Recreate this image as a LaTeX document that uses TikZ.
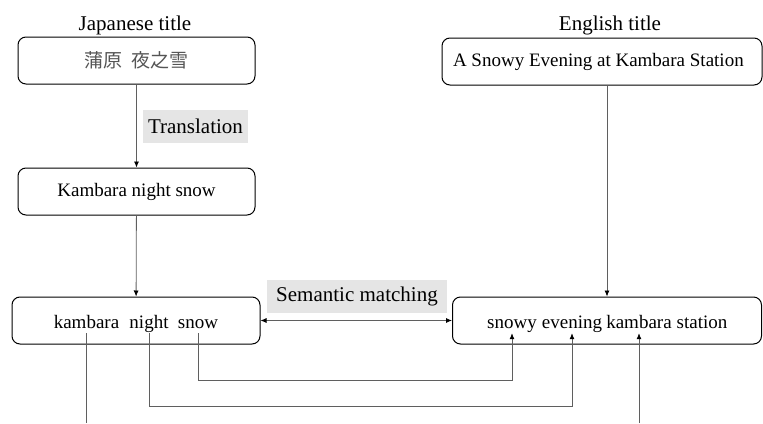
\documentclass[tikz,border=0pt]{standalone}
\usepackage{fontspec}
\setmainfont{Liberation Serif}
\newfontfamily\cjk{Noto Sans CJK JP}
\usepackage{tikz}
\usetikzlibrary{arrows.meta}
\tikzstyle{diagram} = [x = 1pt, y = -1pt]
\definecolor{lineColor}{RGB}{95,95,95}
\definecolor{labelColor}{RGB}{229,229,229}
\definecolor{kanjiColor}{RGB}{85,85,85}
\tikzstyle{titleBox} = [draw=black, line width=1pt, rounded corners=8pt, minimum height=47pt, inner sep=0pt, font=\fontsize{19}{23}\selectfont]
\tikzstyle{headText} = [inner sep=0pt, font=\fontsize{21}{25}\selectfont]
\tikzstyle{labelBox} = [fill=labelColor, minimum height=33pt, inner sep=0pt, font=\fontsize{21}{25}\selectfont]
\tikzstyle{wordText} = [anchor=base, inner sep=0pt, text depth=0pt, font=\fontsize{19}{23}\selectfont]
\tikzstyle{link} = [color=lineColor, line width=0.8pt, -{Latex[length=6pt,width=5pt,color=black]}]
\tikzstyle{plainLink} = [color=lineColor, line width=0.8pt]
\newcommand{\wordLink}[3]{\draw [link] ([yshift=-5pt]#1.south) -- ++(0,#3) -| ([yshift=-5pt]#2.south);}

\begin{document}
\begin{tikzpicture}[diagram]
          \useasboundingbox (0,0) rectangle (763,423);
          % titles
          \node [headText] (jaTitle) at (135,25) {Japanese title};
          \node [headText] (enTitle) at (610,25) {English title};

          % boxes
          \node [titleBox, minimum width=237pt, text=kanjiColor] (jaBox) at (136.5,60.5) {\cjk 蒲原\ \ 夜之雪};
          \node [titleBox, minimum width=237pt] (transBox) at (136.5,191.5) {Kambara night snow};
          \node [titleBox, minimum width=248pt] (jaWords) at (136,320.5) {};
          \node [titleBox, minimum width=320pt, text width=298pt, align=flush left] (enBox) at (602,61.5) {A Snowy Evening at Kambara Station};
          \node [titleBox, minimum width=309pt] (enWords) at (607,320.5) {};

          % words
          \node [wordText] (wKambaraJa) at (86.5,328) {kambara};
          \node [wordText] (wNight) at (149,328) {night};
          \node [wordText] (wSnow) at (198,328) {snow};
          \node [wordText] (wSnowy) at (512,328) {snowy};
          \node [wordText] (wEvening) at (572,328) {evening};
          \node [wordText] (wKambaraEn) at (639,328) {kambara};
          \node [wordText] (wStation) at (702,328) {station};

          % labels
          \node [labelBox, minimum width=105pt] (transLabel) at (195.5,126.5) {Translation};
          \node [labelBox, minimum width=180pt] (matchLabel) at (357,296.5) {Semantic matching};

          % connectors
          \draw [link] (jaBox) -- (transBox);
          \draw [link] (transBox) -- (jaWords);
          \draw [link] (enBox.south -| enWords.north) -- (enWords.north);
          \draw [link, {Latex[length=6pt,width=5pt,color=black]}-{Latex[length=6pt,width=5pt,color=black]}] (jaWords.east) -- (enWords.west);
          \wordLink{wSnow}{wSnowy}{47}
          \wordLink{wNight}{wEvening}{73}
          \coordinate (kambaraEnd) at (86.5,423);
          \coordinate (kambaraStart) at (639,423);
          \draw [plainLink] ([yshift=-5pt]wKambaraJa.south) -- (kambaraEnd);
          \draw [link] (kambaraStart) -- ([yshift=-5pt]wKambaraEn.south);
        \end{tikzpicture}
\end{document}
